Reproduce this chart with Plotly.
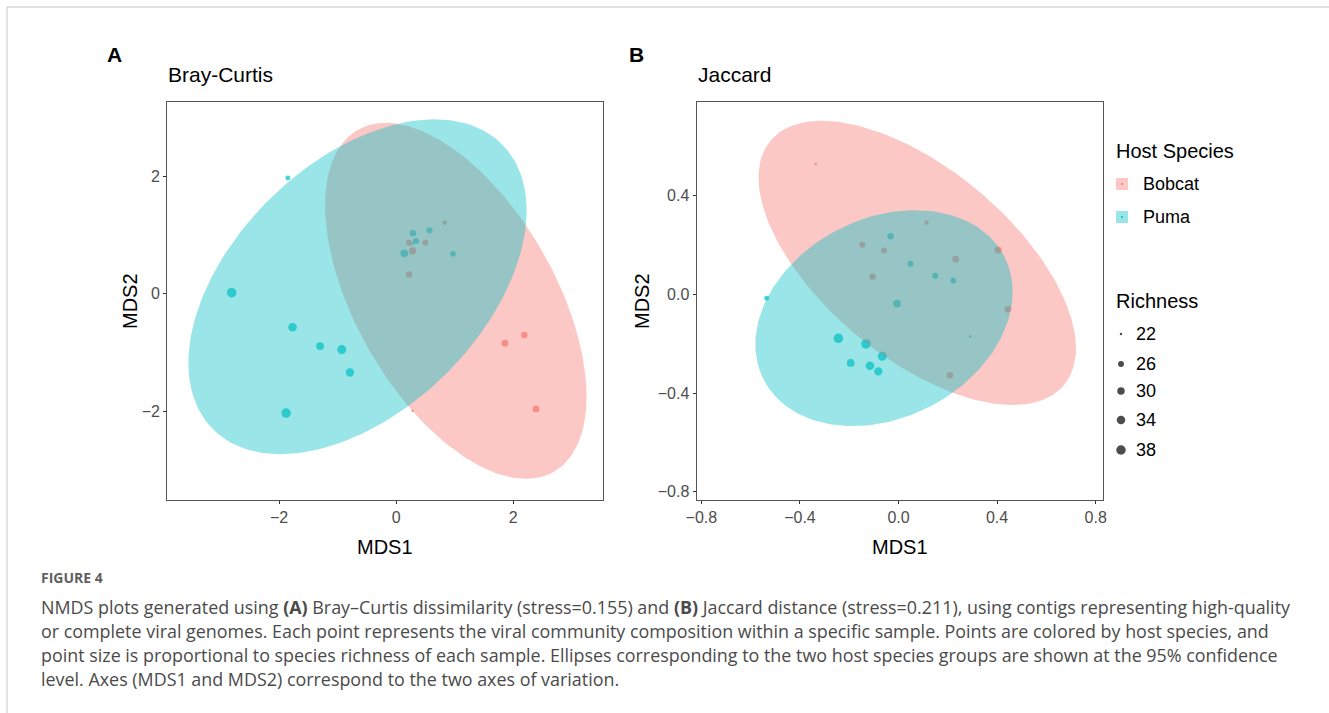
import numpy as np
import plotly.graph_objects as go

# ---------------- data ----------------
host = ["Puma"] * 13 + ["Bobcat"] * 9
richness = [24, 38, 34, 31, 36, 33, 38, 27, 26, 26, 22, 31, 25,
            22, 23, 26, 26, 29, 27, 28, 27, 28]

bray_mds1 = [-1.85, -2.81, -1.77, -1.30, -0.93, -0.79, -1.88, 0.285, 0.57, 0.34, 0.28, 0.14, 0.97,
             0.28, 0.83, 0.22, 0.50, 0.28, 0.22, 1.86, 2.19, 2.39]
bray_mds2 = [1.97, 0.02, -0.57, -0.89, -0.95, -1.34, -2.03, 1.03, 1.08, 0.90, 0.85, 0.69, 0.68,
             -1.99, 1.21, 0.87, 0.87, 0.73, 0.33, -0.84, -0.70, -1.96]

jac_mds1 = [-0.535, -0.244, -0.116, -0.194, -0.066, -0.082, -0.132, -0.032, 0.048, 0.149, 0.291, -0.006, 0.222,
            -0.336, 0.114, -0.147, -0.059, 0.404, 0.209, 0.444, -0.105, 0.232]
jac_mds2 = [-0.015, -0.178, -0.289, -0.278, -0.251, -0.312, -0.201, 0.236, 0.125, 0.076, -0.171, -0.037, 0.056,
            0.528, 0.291, 0.202, 0.178, 0.18, -0.328, -0.06, 0.072, 0.143]

# 95% ellipses (centre and shape matrix)
bray_ell_center = {"Bobcat": [1.02, -0.12], "Puma": [-0.66, 0.12]}
bray_ell_shape = {"Bobcat": [[4.99, -3.63], [-3.63, 9.18]], "Puma": [[8.35, 3.75], [3.75, 8.12]]}
jac_ell_center = {"Bobcat": [0.076, 0.128], "Puma": [-0.059, -0.096]}
jac_ell_shape = {"Bobcat": [[0.4147, -0.223], [-0.223, 0.3324]], "Puma": [[0.2725, 0.0555], [0.0555, 0.1918]]}

groups = ["Bobcat", "Puma"]
legend_richness = [22, 26, 30, 34, 38]

bray_ticks = [-2, 0, 2]
jac_xticks = [-0.8, -0.4, 0.0, 0.4, 0.8]
jac_yticks = [-0.8, -0.4, 0.0, 0.4]

# ---------------- styling ----------------
W, H = 1329, 713
COL = {"Bobcat": "#F8766D", "Puma": "#00BFC4"}
FILL = {"Bobcat": "rgba(248,118,109,0.4)", "Puma": "rgba(0,191,196,0.4)"}
PF = "Liberation Sans, Arial, sans-serif"
CF = "Open Sans, Lato, sans-serif"


def px(x):
    return x / W


def py(y):
    return 1 - y / H


def size_of(r):
    r = np.asarray(r, dtype=float)
    return 2.5 + 7.0 * np.sqrt(np.clip((r - 22) / 16.0, 0, None))


def ellipse(center, shape, n=200):
    L = np.linalg.cholesky(np.array(shape))
    t = np.linspace(0, 2 * np.pi, n)
    pts = L @ np.vstack([np.cos(t), np.sin(t)])
    return pts[0] + center[0], pts[1] + center[1]


fig = go.Figure()

panels = [
    ("x", "y", bray_mds1, bray_mds2, bray_ell_center, bray_ell_shape),
    ("x2", "y2", jac_mds1, jac_mds2, jac_ell_center, jac_ell_shape),
]
hosts = np.array(host)
for xa, ya, mx, my, ec, es in panels:
    mx = np.array(mx)
    my = np.array(my)
    for g in groups:
        m = hosts == g
        fig.add_trace(go.Scatter(
            x=mx[m], y=my[m], mode="markers", xaxis=xa, yaxis=ya,
            marker=dict(color=COL[g], size=size_of(np.array(richness)[m]), line=dict(width=0)),
            showlegend=False, hoverinfo="skip"))
    for g in groups:
        ex, ey = ellipse(ec[g], es[g])
        fig.add_trace(go.Scatter(
            x=ex, y=ey, mode="lines", fill="toself", fillcolor=FILL[g],
            line=dict(width=0, color=FILL[g]), xaxis=xa, yaxis=ya,
            showlegend=False, hoverinfo="skip"))

# legend keys on a pixel-coordinate overlay axis
key_y = {"Bobcat": 184, "Puma": 217}
for g in groups:
    fig.add_trace(go.Scatter(x=[1122], y=[key_y[g]], mode="markers", xaxis="x3", yaxis="y3",
                             marker=dict(symbol="square", size=12, color=FILL[g], line=dict(width=0)),
                             showlegend=False, hoverinfo="skip"))
    fig.add_trace(go.Scatter(x=[1122], y=[key_y[g]], mode="markers", xaxis="x3", yaxis="y3",
                             marker=dict(size=2.2, color=COL[g], line=dict(width=0)),
                             showlegend=False, hoverinfo="skip"))
rich_y = [334, 364, 391, 420, 450]
fig.add_trace(go.Scatter(x=[1121] * len(legend_richness), y=rich_y, mode="markers",
                         xaxis="x3", yaxis="y3",
                         marker=dict(size=size_of(legend_richness), color="black", line=dict(width=0)),
                         showlegend=False, hoverinfo="skip"))

axis_common = dict(showgrid=False, zeroline=False, showline=True, mirror=True,
                   linecolor="#555555", linewidth=1.3, ticks="outside", ticklen=3,
                   tickcolor="#333333", tickwidth=1.3, automargin=False,
                   tickfont=dict(family=PF, size=16, color="#4d4d4d"))

ydom = [py(500), py(101.7)]
fig.update_layout(
    width=W, height=H, margin=dict(l=0, r=0, t=0, b=0, pad=0), autosize=False,
    paper_bgcolor="white", plot_bgcolor="rgba(0,0,0,0)", showlegend=False,
    xaxis=dict(domain=[px(167.3), px(603.3)], range=[-3.91, 3.54], tickvals=bray_ticks,
               anchor="y", **axis_common),
    yaxis=dict(domain=ydom, range=[-3.51, 3.27], tickvals=bray_ticks, anchor="x", **axis_common),
    xaxis2=dict(domain=[px(696.7), px(1103.3)], range=[-0.819, 0.831], tickvals=jac_xticks,
                tickformat=".1f", anchor="y2", **axis_common),
    yaxis2=dict(domain=ydom, range=[-0.834, 0.782], tickvals=jac_yticks, tickformat=".1f",
                anchor="x2", **axis_common),
    xaxis3=dict(domain=[0, 1], range=[0, W], visible=False, anchor="y3", fixedrange=True),
    yaxis3=dict(domain=[0, 1], range=[H, 0], visible=False, anchor="x3", fixedrange=True),
)

ann = []


def text(x, y, s, size, color="black", family=PF, xanchor="left", angle=0):
    ann.append(dict(x=px(x), y=py(y), xref="paper", yref="paper", text=s, showarrow=False,
                    xanchor=xanchor, yanchor="middle", textangle=angle,
                    font=dict(family=family, size=size, color=color)))


text(114, 55, "<b>A</b>", 21, xanchor="center")
text(636, 55, "<b>B</b>", 21, xanchor="center")
text(166, 75, "Bray-Curtis", 21)
text(696, 75, "Jaccard", 21)
text(385, 547, "MDS1", 20, xanchor="center")
text(900, 547, "MDS1", 20, xanchor="center")
text(130, 301, "MDS2", 20, xanchor="center", angle=-90)
text(642, 301, "MDS2", 20, xanchor="center", angle=-90)

text(1114, 151, "Host Species", 20)
for g in groups:
    text(1141, key_y[g], g, 18)
text(1114, 301, "Richness", 20)
for v, yy in zip(legend_richness, rich_y):
    text(1134, yy, str(v), 18)

cap_col = "#4a4a4a"
text(39, 577, "<b>FIGURE 4</b>", 14, color="#606060", family=CF)
caption = [
    "NMDS plots generated using <b>(A)</b> Bray\u2013Curtis dissimilarity (stress=0.155) and <b>(B)</b> Jaccard distance (stress=0.211), using contigs representing high-quality",
    "or complete viral genomes. Each point represents the viral community composition within a specific sample. Points are colored by host species, and",
    "point size is proportional to species richness of each sample. Ellipses corresponding to the two host species groups are shown at the 95% confidence",
    "level. Axes (MDS1 and MDS2) correspond to the two axes of variation.",
]
for i, line in enumerate(caption):
    text(39, 607 + 24 * i, line, 17.9, color=cap_col, family=CF)

fig.update_layout(annotations=ann)
fig.update_layout(shapes=[
    dict(type="line", xref="paper", yref="paper", x0=px(7), x1=1, y0=py(7), y1=py(7),
         line=dict(color="#c4c4c4", width=1)),
    dict(type="line", xref="paper", yref="paper", x0=px(7), x1=px(7), y0=py(7), y1=0,
         line=dict(color="#c4c4c4", width=1)),
])

fig.write_html("out.html", config={"displayModeBar": False},
               post_script="document.body.style.margin='0';document.body.style.overflow='hidden';")
